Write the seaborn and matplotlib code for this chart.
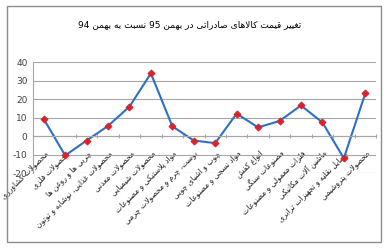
import matplotlib
matplotlib.use("Agg")
import matplotlib.pyplot as plt
import seaborn as sns
import pandas as pd
from matplotlib.patches import Rectangle
from matplotlib.ticker import FixedLocator

# ---------------- data ----------------
title = "تغییر قیمت کالاهای صادراتی در بهمن 95 نسبت به بهمن 94"
categories = [
    "محصولات کشاورزی",
    "محصولات فلزی",
    "چربی ها و روغن ها",
    "محصولات غذایی، نوشابه و توتون",
    "محصولات معدنی",
    "محصولات شیمیایی",
    "مواد پلاستیکی و مصنوعات",
    "پوست، چرم و محصولات چرمی",
    "چوب و اشیای چوبی",
    "مواد نسجی و مصنوعات",
    "انواع کفش",
    "مصنوعات سنگی",
    "فلزات معمولی و مصنوعات",
    "ماشین آلات مکانیکی",
    "وسایل نقلیه و تجهیزات ترابری",
    "محصولات پتروشیمی",
]
values = [9.3, -10.5, -2.4, 5.5, 16.0, 34.0, 5.3, -2.4, -3.8, 12.2, 4.7, 8.2, 16.6, 7.4, -12.0, 23.1]
yticks = [-20, -10, 0, 10, 20, 30, 40]

# ---------------- simple Arabic/Persian shaping for display ----------------
FORMS = {  # isolated, final, initial, medial
    'ء': ('\uFE80', None, None, None),
    'آ': ('\uFE81', '\uFE82', None, None),
    'أ': ('\uFE83', '\uFE84', None, None),
    'ؤ': ('\uFE85', '\uFE86', None, None),
    'إ': ('\uFE87', '\uFE88', None, None),
    'ئ': ('\uFE89', '\uFE8A', '\uFE8B', '\uFE8C'),
    'ا': ('\uFE8D', '\uFE8E', None, None),
    'ب': ('\uFE8F', '\uFE90', '\uFE91', '\uFE92'),
    'ة': ('\uFE93', '\uFE94', None, None),
    'ت': ('\uFE95', '\uFE96', '\uFE97', '\uFE98'),
    'ث': ('\uFE99', '\uFE9A', '\uFE9B', '\uFE9C'),
    'ج': ('\uFE9D', '\uFE9E', '\uFE9F', '\uFEA0'),
    'ح': ('\uFEA1', '\uFEA2', '\uFEA3', '\uFEA4'),
    'خ': ('\uFEA5', '\uFEA6', '\uFEA7', '\uFEA8'),
    'د': ('\uFEA9', '\uFEAA', None, None),
    'ذ': ('\uFEAB', '\uFEAC', None, None),
    'ر': ('\uFEAD', '\uFEAE', None, None),
    'ز': ('\uFEAF', '\uFEB0', None, None),
    'س': ('\uFEB1', '\uFEB2', '\uFEB3', '\uFEB4'),
    'ش': ('\uFEB5', '\uFEB6', '\uFEB7', '\uFEB8'),
    'ص': ('\uFEB9', '\uFEBA', '\uFEBB', '\uFEBC'),
    'ض': ('\uFEBD', '\uFEBE', '\uFEBF', '\uFEC0'),
    'ط': ('\uFEC1', '\uFEC2', '\uFEC3', '\uFEC4'),
    'ظ': ('\uFEC5', '\uFEC6', '\uFEC7', '\uFEC8'),
    'ع': ('\uFEC9', '\uFECA', '\uFECB', '\uFECC'),
    'غ': ('\uFECD', '\uFECE', '\uFECF', '\uFED0'),
    'ف': ('\uFED1', '\uFED2', '\uFED3', '\uFED4'),
    'ق': ('\uFED5', '\uFED6', '\uFED7', '\uFED8'),
    'ك': ('\uFED9', '\uFEDA', '\uFEDB', '\uFEDC'),
    'ل': ('\uFEDD', '\uFEDE', '\uFEDF', '\uFEE0'),
    'م': ('\uFEE1', '\uFEE2', '\uFEE3', '\uFEE4'),
    'ن': ('\uFEE5', '\uFEE6', '\uFEE7', '\uFEE8'),
    'ه': ('\uFEE9', '\uFEEA', '\uFEEB', '\uFEEC'),
    'و': ('\uFEED', '\uFEEE', None, None),
    'ى': ('\uFEEF', '\uFEF0', None, None),
    'ي': ('\uFEF1', '\uFEF2', '\uFEF3', '\uFEF4'),
    'پ': ('\uFB56', '\uFB57', '\uFB58', '\uFB59'),
    'چ': ('\uFB7A', '\uFB7B', '\uFB7C', '\uFB7D'),
    'ژ': ('\uFB8A', '\uFB8B', None, None),
    'ک': ('\uFB8E', '\uFB8F', '\uFB90', '\uFB91'),
    'گ': ('\uFB92', '\uFB93', '\uFB94', '\uFB95'),
    'ی': ('\uFBFC', '\uFBFD', '\uFBFE', '\uFBFF'),
}
LAM_ALEF = {'ا': ('\uFEFB', '\uFEFC'), 'آ': ('\uFEF5', '\uFEF6'),
            'أ': ('\uFEF7', '\uFEF8'), 'إ': ('\uFEF9', '\uFEFA')}


def dual(c):
    return c in FORMS and FORMS[c][2] is not None


def joins(c):
    return c in FORMS and FORMS[c][1] is not None


def shape(s):
    chars = list(s)
    out = []
    i = 0
    n = len(chars)
    while i < n:
        c = chars[i]
        if c not in FORMS:
            out.append(c)
            i += 1
            continue
        prev = chars[i - 1] if i > 0 else ''
        conn_prev = dual(prev) and joins(c)
        if c == 'ل' and i + 1 < n and chars[i + 1] in LAM_ALEF:
            iso, fin = LAM_ALEF[chars[i + 1]]
            out.append(fin if conn_prev else iso)
            i += 2
            continue
        nxt = chars[i + 1] if i + 1 < n else ''
        conn_next = dual(c) and joins(nxt)
        iso, fin, ini, med = FORMS[c]
        if conn_prev and conn_next:
            out.append(med)
        elif conn_prev:
            out.append(fin)
        elif conn_next:
            out.append(ini)
        else:
            out.append(iso)
        i += 1
    # visual RTL order, keep digit runs left-to-right
    tokens = []
    for ch in out:
        if ch.isdigit() and tokens and tokens[-1][0].isdigit():
            tokens[-1] += ch
        else:
            tokens.append(ch)
    return ''.join(reversed(tokens))


def rtl(s):
    try:
        import arabic_reshaper
        from bidi.algorithm import get_display
        return get_display(arabic_reshaper.reshape(s))
    except Exception:
        return shape(s)


# ---------------- figure ----------------
sns.set_theme(style="white")
plt.rcParams['font.family'] = ['DejaVu Sans']

df = pd.DataFrame({"pos": range(len(categories)), "value": values})

fig = plt.figure(figsize=(3.87, 2.48), dpi=100)
fig.patch.set_facecolor("white")

# outer chart border
fig.add_artist(Rectangle((6.5 / 387, 1 - 241.5 / 248), (380.5 - 6.5) / 387, (241.5 - 5.5) / 248,
                         transform=fig.transFigure, fill=False, edgecolor="#8c8c8c", linewidth=1.0))

ax = fig.add_axes([33 / 387, 1 - 173 / 248, (376 - 33) / 387, (173 - 62.3) / 248])

sns.lineplot(data=df, x="pos", y="value", ax=ax, color="#2e6fc4", linewidth=1.5,
             marker="D", markersize=3.5, markerfacecolor="#d8232a", markeredgecolor="#d8232a",
             legend=False)

ax.set_xlim(-0.5, len(categories) - 0.5)
ax.set_ylim(yticks[0], yticks[-1])
ax.set_yticks(yticks)
ax.set_yticklabels([str(v) for v in yticks], fontsize=6.5, color="#404040")
ax.yaxis.grid(True, color="#a6a6a6", linewidth=0.8)
ax.set_axisbelow(True)
ax.tick_params(axis='y', length=0, pad=4)

for side in ["top", "right"]:
    ax.spines[side].set_visible(False)
ax.spines["left"].set_color("#a6a6a6")
ax.spines["left"].set_linewidth(0.8)
ax.spines["bottom"].set_position(("data", 0))
ax.spines["bottom"].set_color("#a6a6a6")
ax.spines["bottom"].set_linewidth(0.8)

ax.set_xticks(range(len(categories)))
ax.set_xticklabels([rtl(c) for c in categories], rotation=45, ha="right", va="top",
                   rotation_mode="anchor", fontsize=5.5, color="#202020")
ax.xaxis.set_minor_locator(FixedLocator([i - 0.5 for i in range(len(categories) + 1)]))
ax.tick_params(axis='x', which='major', length=0, pad=9)
ax.tick_params(axis='x', which='minor', length=3, direction='inout', color="#a6a6a6", width=0.8,
               bottom=True)
ax.set_xlabel("")
ax.set_ylabel("")

fig.text(190 / 387, 1 - 25 / 248, rtl(title), ha="center", va="center", fontsize=6.5, color="#000000")

fig.savefig("out.png", dpi=100, facecolor="white")
